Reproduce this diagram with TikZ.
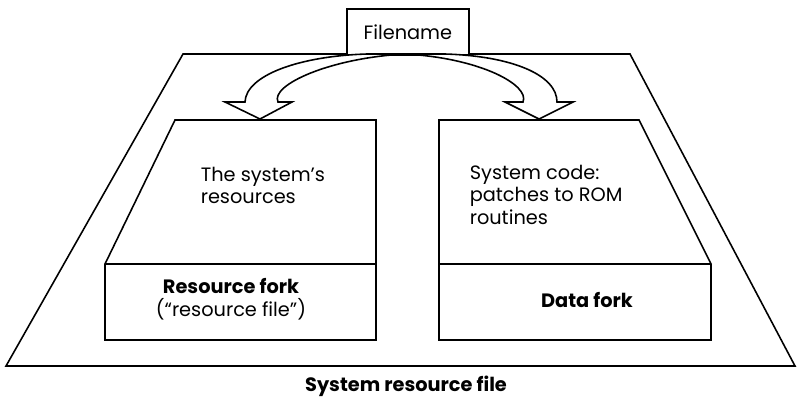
\documentclass[tikz,border=0pt]{standalone}
\usepackage{fontspec}
\setmainfont{Poppins}
\begin{document}
\begin{tikzpicture}[x=0.02cm,y=-0.02cm,line width=0.9pt,line join=miter,
  lbl/.style={font=\fontsize{11}{13}\selectfont,inner sep=0pt},
  bold/.style={font=\fontsize{11}{13}\selectfont\bfseries,inner sep=0pt},
  arrowshape/.style={draw=black,fill=white,line width=0.9pt}]
\useasboundingbox (0,0) rectangle (800,403);
% outer file outline
\draw (183,54) -- (630,54) -- (795,366) -- (6,366) -- cycle;
% resource fork
\draw[fill=white] (175,120) -- (376,120) -- (376,340) -- (105,340) -- (105,264) -- cycle;
\draw (105,264) -- (376,264);
% data fork
\draw[fill=white] (439,120) -- (639,120) -- (711,264) -- (711,340) -- (439,340) -- cycle;
\draw (439,264) -- (711,264);
% filename box
\node[draw,fill=white,minimum width=122*0.02cm,minimum height=46*0.02cm,lbl,anchor=north west] (fn) at (346,8) {Filename};
\coordinate (src) at (405,54);
\coordinate (srcl) at (367,54);
\coordinate (srcr) at (445,54);
\coordinate (rtip) at (260,119);
\coordinate (dtip) at (539,119);
% curved hollow arrows
\path[arrowshape] (srcr) .. controls (512,56) and (557,75) .. (557,102)
  -- (573,102) -- (dtip) -- (505,102) -- (523,102)
  .. controls (530,85) and (480,58) .. (src) -- cycle;
\path[arrowshape] (srcl) .. controls (300,56) and (246,75) .. (245,102)
  -- (225,102) -- (rtip) -- (292,102) -- (278,102)
  .. controls (270,85) and (330,58) .. (src) -- cycle;
% texts
\node[lbl,align=left,anchor=north west] (t1) at (200,166) {The system’s\\resources};
\node[lbl,align=left,anchor=north west] (t2) at (469,164) {System code:\\patches to ROM\\routines};
\node[lbl,align=center] (t3) at (231,299) {\textbf{Resource fork}\\(“resource file”)};
\node[bold] (t4) at (587,300) {Data fork};
\node[bold] (t5) at (406,386) {System resource file};
\end{tikzpicture}
\end{document}
